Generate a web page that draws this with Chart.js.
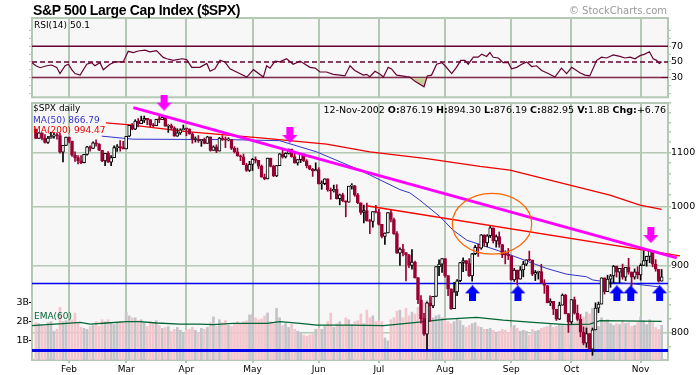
<!DOCTYPE html>
<html>
<head>
<meta charset="utf-8">
<script src="https://cdn.jsdelivr.net/npm/chart.js@4.4.1/dist/chart.umd.min.js"></script>
<style>
body { margin:0; background:#fff; width:698px; height:375px; overflow:hidden; position:relative; font-family:"DejaVu Sans", sans-serif; }
canvas { position:absolute; left:0; top:0; }
.t { position:absolute; white-space:nowrap; font-size:9px; line-height:9px; color:#000; }
</style>
</head>
<body>
<canvas id="rsiChart" width="698" height="103"></canvas>
<canvas id="priceChart" width="698" height="375"></canvas>
<div class="t" style="left:33px;top:3px;font:bold 14px 'Liberation Sans',Arial,sans-serif;line-height:14px;letter-spacing:-0.35px">S&amp;P 500 Large Cap Index ($SPX)</div>
<div class="t" style="right:31px;top:6px;font-size:10px;line-height:10px;color:#999">© StockCharts.com</div>
<div class="t" style="left:34px;top:20.5px">RSI(14) 50.1</div>
<div class="t" style="left:33px;top:104px">$SPX daily</div>
<div class="t" style="left:33px;top:115.5px;color:#3333cc">MA(50) 866.79</div>
<div class="t" style="left:33px;top:126px;color:#ee0000">MA(200) 994.47</div>
<div class="t" style="right:32px;top:104.5px;font-size:9.5px;line-height:9.5px">12-Nov-2002 <b>O:</b>876.19 <b>H:</b>894.30 <b>L:</b>876.19 <b>C:</b>882.95 <b>V:</b>1.8B <b>Chg:</b>+6.76</div>
<div class="t" style="left:34px;top:312px;color:#006633">EMA(60)</div>
<script>
// daily bars 16-Jan-2002 .. 12-Nov-2002, index 0 = 16-Jan
const opens = [
  1146.2, 1127.6, 1138.9, 1127.6, 1119.3, 1128.2, 1132.2, 1133.3, 1133.1, 1100.6, 1113.6,
  1130.2, 1122.2, 1094.4, 1090.0, 1083.5, 1080.2, 1096.2, 1111.0, 1107.5, 1118.5, 1116.5, 1104.2, 1083.3, 1098.0, 1081.0, 1089.8, 1109.4, 1109.9, 1109.4,
  1106.7, 1131.8, 1153.8, 1146.1, 1162.8, 1157.5, 1164.3, 1168.3, 1165.6, 1154.1, 1153.0, 1166.2, 1165.6, 1170.3, 1151.9, 1153.6, 1148.7, 1131.9, 1138.5, 1144.6,
  1147.4, 1146.5, 1136.8, 1125.4, 1126.3, 1122.7, 1125.3, 1117.8, 1130.5, 1103.7, 1111.0, 1102.6, 1128.4, 1126.1, 1124.5, 1125.2, 1107.8, 1101.0, 1093.1, 1091.5, 1076.3, 1065.5,
  1076.9, 1086.5, 1084.6, 1073.4, 1052.7, 1049.5, 1088.9, 1073.0, 1055.0, 1074.6, 1097.3, 1091.1, 1098.2, 1106.6, 1091.9, 1079.9, 1086.0, 1097.1, 1083.8, 1074.6, 1067.7, 1064.7,
  1067.1, 1040.7, 1040.7, 1049.9, 1029.2, 1027.5, 1030.7, 1013.6, 1020.3, 1009.6, 1007.3, 1036.2, 1037.1, 1020.0, 1006.3, 989.1, 992.7, 974.5, 973.5, 990.6,
  989.8, 968.7, 948.1, 954.0, 989.0, 977.0, 952.8, 920.5, 927.4, 921.4, 917.9, 900.9, 906.0, 881.6, 847.8, 819.9, 797.7, 843.4, 838.7, 852.8, 899.0, 902.8,
  911.6, 884.7, 864.2, 834.6, 859.6, 876.8, 905.5, 908.6, 903.8, 884.2, 919.6, 930.3, 928.8, 950.7, 937.4, 949.4, 962.7, 940.9, 948.0, 934.8, 917.9, 917.8,
  916.1, 878.0, 893.4, 879.2, 893.9, 903.0, 909.6, 909.4, 886.9, 889.8, 891.1, 873.5, 869.5, 843.3, 845.4, 833.7, 819.3, 839.7, 855.0, 827.4,
  815.3, 847.9, 827.9, 819.0, 800.6, 785.3, 798.6, 776.8, 803.9, 835.3, 841.4, 881.3, 860.0, 879.2, 884.4, 899.7, 890.2, 896.1, 882.5, 897.7, 890.2, 882.2, 890.7,
  885.8, 901.0, 908.4, 915.4, 923.8, 902.7, 894.7, 876.2
];
const highs = [
  1146.2, 1139.3, 1138.9, 1135.3, 1131.9, 1139.5, 1138.3, 1138.6, 1137.5, 1113.8, 1130.2,
  1130.2, 1122.2, 1101.0, 1093.6, 1094.0, 1096.3, 1112.0, 1112.7, 1120.6, 1124.7, 1117.1, 1104.2, 1098.3, 1101.5, 1093.9, 1112.7, 1115.1, 1123.1, 1121.6,
  1131.8, 1153.8, 1157.7, 1165.3, 1167.9, 1172.8, 1173.0, 1168.3, 1165.6, 1157.8, 1166.5, 1172.7, 1173.9, 1170.3, 1155.1, 1156.5, 1151.0, 1147.0, 1146.9, 1154.5,
  1147.8, 1146.5, 1138.9, 1130.5, 1133.3, 1125.3, 1128.3, 1131.8, 1130.5, 1112.8, 1114.9, 1129.4, 1133.0, 1130.5, 1128.8, 1125.2, 1111.2, 1108.5, 1094.9, 1096.8, 1078.9, 1082.6,
  1088.3, 1091.4, 1084.6, 1075.9, 1058.7, 1088.9, 1088.9, 1075.4, 1074.8, 1097.7, 1104.2, 1099.3, 1106.6, 1106.6, 1099.6, 1086.0, 1097.1, 1097.1, 1085.9, 1074.6, 1069.5, 1079.9,
  1070.7, 1046.1, 1050.1, 1049.9, 1033.0, 1038.2, 1039.0, 1021.9, 1023.5, 1009.6, 1036.2, 1040.8, 1037.6, 1023.1, 1006.3, 1002.1, 1005.9, 977.4, 990.7, 1001.8,
  994.5, 968.7, 954.3, 989.1, 993.6, 979.6, 956.3, 929.2, 934.9, 921.4, 918.7, 926.5, 907.8, 881.6, 854.1, 827.7, 844.3, 853.8, 852.9, 899.0, 909.8, 911.6,
  911.6, 884.7, 864.2, 874.4, 878.7, 905.8, 913.0, 908.6, 911.7, 920.2, 933.3, 935.4, 951.2, 950.7, 951.2, 965.0, 962.7, 950.8, 955.8, 934.8, 924.6, 928.2,
  916.1, 896.1, 893.4, 899.1, 907.3, 909.9, 924.0, 909.4, 892.8, 891.8, 902.7, 878.5, 869.5, 849.3, 845.4, 833.7, 844.2, 856.6, 856.0, 827.4,
  847.9, 851.9, 840.0, 825.9, 808.2, 806.5, 798.6, 806.5, 843.3, 844.4, 881.3, 881.3, 885.4, 886.7, 900.7, 899.7, 896.2, 902.9, 897.7, 912.3, 890.6, 895.3, 898.8,
  903.4, 924.6, 915.8, 925.7, 923.8, 910.1, 894.7, 894.3
];
const lows = [
  1127.0, 1127.6, 1124.5, 1117.9, 1117.4, 1128.2, 1127.8, 1126.0, 1098.7, 1081.7, 1113.3,
  1118.5, 1092.3, 1082.6, 1077.8, 1078.4, 1079.9, 1094.7, 1102.6, 1107.5, 1112.3, 1103.2, 1082.2, 1074.4, 1080.6, 1074.4, 1089.8, 1101.7, 1102.6, 1106.7,
  1106.7, 1130.9, 1144.8, 1145.1, 1150.7, 1157.5, 1159.6, 1155.1, 1151.0, 1151.0, 1153.0, 1159.1, 1165.6, 1151.6, 1139.5, 1144.6, 1131.9, 1131.6, 1135.3, 1144.6,
  1132.9, 1135.7, 1117.8, 1120.1, 1119.5, 1111.8, 1116.7, 1117.8, 1102.4, 1103.7, 1099.4, 1102.6, 1123.4, 1109.3, 1122.6, 1105.6, 1098.9, 1092.5, 1084.0, 1076.3, 1063.6, 1063.5,
  1065.3, 1079.5, 1068.9, 1052.7, 1048.0, 1049.5, 1072.2, 1053.9, 1053.9, 1074.6, 1088.9, 1089.2, 1096.8, 1090.6, 1079.0, 1075.6, 1080.5, 1082.2, 1070.3, 1066.7, 1054.3, 1064.7,
  1039.9, 1030.5, 1038.8, 1026.9, 1012.5, 1025.5, 1012.9, 1002.6, 1008.1, 981.6, 1007.3, 1030.9, 1017.9, 1004.6, 985.7, 970.9, 974.2, 952.9, 963.7, 988.3,
  967.4, 945.5, 934.9, 954.0, 972.9, 951.7, 920.1, 900.9, 915.9, 876.5, 897.1, 895.0, 880.6, 842.1, 813.3, 796.1, 775.7, 816.1, 835.9, 852.8, 884.7, 889.9,
  882.5, 853.9, 833.4, 834.6, 854.1, 875.2, 890.8, 892.4, 883.6, 876.2, 918.2, 915.4, 927.0, 931.9, 931.1, 946.4, 937.2, 930.4, 930.1, 913.2, 903.3, 910.2,
  877.5, 875.7, 870.5, 879.2, 882.9, 900.5, 908.5, 884.8, 877.0, 879.3, 872.4, 857.4, 843.1, 839.1, 825.8, 817.4, 818.5, 839.7, 826.8, 800.2,
  812.8, 826.5, 817.3, 794.1, 782.9, 779.5, 775.8, 768.6, 803.9, 828.7, 841.4, 856.3, 860.0, 866.6, 873.1, 882.5, 873.8, 879.2, 877.0, 887.0, 867.9, 879.2, 879.8,
  877.7, 901.0, 899.5, 905.0, 898.7, 891.6, 874.6, 876.2
];
const closes = [
  1127.6, 1138.9, 1127.6, 1119.3, 1128.2, 1132.2, 1133.3, 1133.1, 1100.6, 1113.6, 1130.2,
  1122.2, 1094.4, 1090.0, 1083.5, 1080.2, 1096.2, 1111.0, 1107.5, 1118.5, 1116.5, 1104.2, 1083.3, 1098.0, 1081.0, 1089.8, 1109.4, 1109.9, 1109.4, 1106.7,
  1131.8, 1153.8, 1146.1, 1162.8, 1157.5, 1164.3, 1168.3, 1165.6, 1154.1, 1153.0, 1166.2, 1165.6, 1170.3, 1151.9, 1153.6, 1148.7, 1131.9, 1138.5, 1144.6, 1147.4,
  1146.5, 1136.8, 1125.4, 1126.3, 1122.7, 1125.3, 1117.8, 1130.5, 1103.7, 1111.0, 1102.6, 1128.4, 1126.1, 1124.5, 1125.2, 1107.8, 1101.0, 1093.1, 1091.5, 1076.3, 1065.5, 1076.9,
  1086.5, 1084.6, 1073.4, 1052.7, 1049.5, 1088.9, 1073.0, 1055.0, 1074.6, 1097.3, 1091.1, 1098.2, 1106.6, 1091.9, 1079.9, 1086.0, 1097.1, 1083.8, 1074.6, 1067.7, 1064.7, 1067.1,
  1040.7, 1040.7, 1049.9, 1029.2, 1027.5, 1030.7, 1013.6, 1020.3, 1009.6, 1007.3, 1036.2, 1037.1, 1020.0, 1006.3, 989.1, 992.7, 974.5, 973.5, 990.6, 989.8,
  968.7, 948.1, 954.0, 989.0, 977.0, 952.8, 920.5, 927.4, 921.4, 917.9, 900.9, 906.0, 881.6, 847.8, 819.9, 797.7, 843.4, 838.7, 852.8, 899.0, 902.8, 911.6,
  884.7, 864.2, 834.6, 859.6, 876.8, 905.5, 908.6, 903.8, 884.2, 919.6, 930.3, 928.8, 950.7, 937.4, 949.4, 962.7, 940.9, 948.0, 934.8, 917.9, 917.8, 916.1,
  878.0, 893.4, 879.2, 893.9, 903.0, 909.6, 909.4, 886.9, 889.8, 891.1, 873.5, 869.5, 843.3, 845.4, 833.7, 819.3, 839.7, 855.0, 827.4, 815.3,
  847.9, 827.9, 819.0, 800.6, 785.3, 798.6, 776.8, 803.9, 835.3, 841.4, 881.3, 860.0, 879.2, 884.4, 899.7, 890.2, 896.1, 882.5, 897.7, 890.2, 882.2, 890.7, 885.8,
  901.0, 908.4, 915.4, 923.8, 902.7, 894.7, 876.2, 883.0
];
// volume, billions of shares
const volumes = [
  1.95, 1.9, 1.85, 1.75, 1.95, 2.0, 1.5, 1.6, 2.75, 2.0, 2.05,
  2.0, 2.1, 2.45, 1.95, 1.7, 1.65, 1.6, 1.75, 1.8, 2.0, 1.75, 2.1, 2.0, 2.1, 1.9, 1.85, 1.95, 2.0, 1.95,
  2.5, 2.3, 2.2, 2.2, 2.05, 2.1, 1.95, 1.75, 2.0, 1.9, 2.05, 1.8, 1.65, 1.7, 1.75, 1.5, 1.6, 1.7, 1.55, 1.45,
  1.55, 1.6, 1.7, 1.55, 1.45, 1.65, 1.6, 1.7, 1.95, 2.25, 1.75, 2.1, 1.95, 2.05, 1.8, 1.75, 1.9, 2.0, 1.9, 2.0, 2.05, 2.35,
  2.4, 2.2, 2.1, 2.15, 2.3, 2.45, 2.0, 1.9, 2.7, 2.2, 1.8, 1.9, 1.7, 1.85, 1.6, 1.5, 1.45, 1.3, 1.25, 1.3, 1.35, 1.6,
  1.65, 1.6, 1.75, 2.0, 2.45, 1.7, 1.9, 2.0, 1.8, 2.2, 2.1, 1.85, 2.0, 2.05, 2.4, 1.9, 2.6, 2.2, 2.3, 2.0,
  2.05, 2.0, 1.15, 1.0, 2.1, 2.2, 2.55, 2.6, 2.2, 2.7, 2.3, 2.5, 2.4, 2.75, 2.8, 3.0, 3.1, 2.6, 2.2, 2.3, 2.35, 2.2,
  2.2, 2.0, 1.9, 2.0, 2.15, 2.05, 1.8, 1.7, 1.8, 1.9, 1.95, 1.75, 1.7, 1.6, 1.6, 1.65, 1.55, 1.45, 1.5, 1.6, 1.55, 1.45,
  1.7, 1.8, 1.65, 1.5, 1.55, 1.5, 1.3, 1.6, 1.5, 1.55, 1.65, 1.7, 1.75, 1.9, 1.7, 1.75, 1.85, 1.8, 1.75, 2.0,
  2.1, 1.95, 2.05, 2.2, 2.25, 2.5, 2.4, 2.7, 2.3, 1.75, 2.2, 2.0, 2.1, 1.9, 1.8, 1.9, 1.85, 2.05, 1.9, 1.95, 1.75, 1.8, 1.95,
  2.25, 2.05, 1.85, 2.1, 1.95, 1.7, 1.6, 1.8
];

// month axis: day index of first session of each month
const monthDays = [11, 30, 50, 72, 94, 114, 136, 158, 178, 201];
const monthNames = ['Feb', 'Mar', 'Apr', 'May', 'Jun', 'Jul', 'Aug', 'Sep', 'Oct', 'Nov'];

// overlays (day index, value)
const ma50Days = [21.9, 32.3, 64.5, 81, 93.3, 107.7, 121, 124.3, 127.6, 134.3, 138.6, 143.2, 149.8, 156.5, 165.3, 169.8, 176.4, 183, 185.1, 189.7, 198.5, 208];
const ma50Vals = [1132, 1126, 1125, 1123, 1101, 1066, 1030, 1024, 1011, 982, 959, 942, 931, 920, 904, 896, 887, 883, 878, 875, 872, 866.8];
const ma200Days = [23.3, 31.3, 50.1, 75.5, 96.6, 111, 129.9, 147.6, 157.6, 177.5, 190.8, 200.8, 208];
const ma200Vals = [1159, 1155, 1141, 1128, 1116, 1101, 1088, 1073, 1066, 1038, 1020, 1002, 994.5];
const emaDays = [-1.3, 3.6, 10.2, 14.7, 18, 23.5, 30.2, 34.6, 40.1, 47.9, 54.5, 58.9, 65.5, 76.8, 81.1, 87.8, 93.4, 104.4, 115.5, 126.6, 136.5, 146.5, 155.3, 165.3, 176.4, 184.1, 187.5, 208];
const emaVals = [1.79, 1.84, 1.91, 1.96, 1.87, 1.93, 2.0, 2.0, 1.93, 1.87, 1.87, 1.84, 1.91, 1.91, 2.0, 1.91, 1.82, 1.82, 1.79, 1.96, 2.13, 2.22, 2.08, 1.96, 1.84, 1.87, 2.05, 2.01];

const rsiDays = [-1.3, 0, 1.4, 3.6, 5.2, 6.9, 8, 9.7, 10.8, 11.9, 13, 14.7, 16.9, 18.5, 19.6, 21.3, 22.4, 24.6, 26.3, 29, 30.7, 32.4, 34, 36.3, 37.9, 40.1, 42.3, 43.5, 45.7, 48.5, 50.1, 51.8, 54.5, 56.8, 57.9, 59.5, 61.2, 62.8, 64.5, 66.7, 70.1, 72.3, 75.6, 76.7, 77.8, 79.5, 81.1, 83.3, 85.5, 87.8, 91.1, 92.8, 94.4, 96.6, 98.8, 101.1, 102.7, 104.4,
  106, 108.8, 109.9, 111, 112.7, 114.4, 115.5, 117.1, 118.2, 119.9, 121.6, 123.2, 124.3, 126, 129, 130.1, 131.5, 133.2, 134.9, 136, 138.2, 139.8, 141.2, 142.6, 143.7, 145.4, 147, 148.2, 149.8, 150.9, 152, 153.7, 155.3, 157, 158.1, 159.8, 161.5, 163.1, 164.8, 166.4, 168.1, 170.3, 172.5, 174.7, 176.4, 178.1, 180.8, 182.5, 184.1, 186.4, 188, 189.7, 191.9, 194.1, 195.8, 197.5, 199.1, 200.8, 202.4, 203.9, 205.2, 206.3, 207.2, 208];
const rsiVals = [49, 45, 42.5, 45, 46, 43, 35, 45, 47, 40, 35, 33, 47, 49, 45, 49, 40, 47, 50, 50, 63.6, 62, 64, 65, 63, 64.5, 55.8, 54, 52, 54, 53, 43, 43, 48, 38, 41, 52, 50, 41, 37, 30.5, 40, 30.5, 45, 42, 51, 50, 54, 47, 51, 43, 42, 37, 37, 34, 33, 32, 45,
  39, 33, 34, 31, 38, 34, 30.5, 43, 41, 33, 32, 31, 30.5, 25, 18, 32, 33, 47, 49, 45, 35, 43, 52, 52, 47, 56, 56, 60, 57, 62, 56, 55, 49, 49, 41, 43, 47, 50, 44, 45, 39, 35, 30.5, 42, 35, 43, 36, 33, 32, 52, 56, 55, 59, 57, 55, 56, 54, 58, 60, 63, 54, 52, 48, 50.1];
const rsiLevels = [70, 50, 30];
const rsiTickVals = [10, 20, 30, 40, 50, 60, 70, 80, 90];

// annotations drawn on the chart
const trendDays = [32.4, 213.0];
const trendPrices = [1190.6, 912.9];
const redTrendDays = [109.9, 214.1];
const redTrendPrices = [1001, 916.0];
const supportPrices = [872.7, 775];
const circleDays = [138.4, 164.8];
const circlePrices = [919.0, 1023.2];
const downArrowDays = [42.6, 84.4, 204.4];
const downArrowPrices = [1201, 1134.4, 950.5];
const upArrowDays = [145.1, 160.2, 193.1, 197.7, 207.3];
const upArrowPrices = [857.5, 857.5, 857.5, 857.5, 857.5];

const priceLabels = [800, 900, 1000, 1100];
const priceTickVals = [780, 800, 820, 840, 860, 880, 900, 920, 940, 960, 980, 1000, 1020, 1040, 1060, 1080, 1100, 1120, 1140, 1160, 1180, 1200];
const volTickVals = [1, 2, 3];

const X_MIN = -1.3, X_MAX = 210.1;
const GRID = '#b3c9b3';
const RED = '#990033';
const MAROON = '#660033';

Chart.defaults.font.family = "'DejaVu Sans', sans-serif";
Chart.defaults.font.size = 9;
Chart.defaults.color = '#000';

const pts = (xs, ys) => xs.map((x, k) => ({ x: x, y: ys[k] }));

const panel = {
  id: 'panel',
  beforeDraw(chart) {
    const a = chart.chartArea, ctx = chart.ctx;
    ctx.save();
    ctx.fillStyle = '#f7f7f7';
    ctx.fillRect(a.left, a.top, a.right - a.left, a.bottom - a.top);
    ctx.restore();
  },
  beforeDatasetsDraw(chart) {
    const a = chart.chartArea, ctx = chart.ctx;
    ctx.save();
    ctx.strokeStyle = GRID;
    ctx.lineWidth = 2;
    ctx.strokeRect(a.left, a.top, a.right - a.left, a.bottom - a.top);
    ctx.restore();
  }
};

const ellipse = {
  id: 'ellipse',
  afterDatasetsDraw(chart) {
    const x = chart.scales.x, y = chart.scales.y, ctx = chart.ctx;
    const l = x.getPixelForValue(circleDays[0]), r = x.getPixelForValue(circleDays[1]);
    const b = y.getPixelForValue(circlePrices[0]), t = y.getPixelForValue(circlePrices[1]);
    ctx.save();
    ctx.strokeStyle = '#ff6600';
    ctx.lineWidth = 1.2;
    ctx.beginPath();
    ctx.ellipse((l + r) / 2, (t + b) / 2, (r - l) / 2, (b - t) / 2, 0, 0, Math.PI * 2);
    ctx.stroke();
    ctx.restore();
  }
};

function arrowImage(color, down) {
  const c = document.createElement('canvas');
  c.width = 15; c.height = 16;
  const g = c.getContext('2d');
  g.fillStyle = color;
  g.beginPath();
  if (down) {
    g.rect(4, 0, 7, 8);
    g.moveTo(0, 8); g.lineTo(15, 8); g.lineTo(7.5, 16); g.closePath();
  } else {
    g.moveTo(7.5, 0); g.lineTo(15, 8); g.lineTo(0, 8); g.closePath();
    g.rect(4, 8, 7, 8);
  }
  g.fill();
  return c;
}

function xAxis(showLabels) {
  return {
    type: 'linear', min: X_MIN, max: X_MAX, offset: false,
    afterBuildTicks: s => { s.ticks = monthDays.map(v => ({ value: v })); },
    grid: { color: GRID, lineWidth: 2, drawTicks: showLabels, tickLength: 3, tickColor: GRID, offset: false },
    border: { display: false },
    ticks: { display: showLabels, autoSkip: false, maxRotation: 0, padding: 1,
      callback: v => monthNames[monthDays.indexOf(v)] },
    afterFit: s => { s.height = showLabels ? 15 : 0; }
  };
}

const days = closes.map((c, i) => i);
const upDay = closes.map((c, i) => c >= opens[i]);

// RSI panel
new Chart(document.getElementById('rsiChart'), {
  type: 'line',
  data: {
    datasets: [
      { data: pts(rsiDays, rsiVals), borderColor: MAROON, borderWidth: 1.2, pointRadius: 0,
        fill: { target: { value: 30 }, above: 'rgba(0,0,0,0)', below: '#cccc99' }, order: 1 },
      ...rsiLevels.map(v => ({ data: [{ x: X_MIN, y: v }, { x: X_MAX, y: v }], borderColor: MAROON,
        borderWidth: 1.5, borderDash: v === 50 ? [5, 3] : [], pointRadius: 0, order: 2 }))
    ]
  },
  options: {
    responsive: false, animation: false, events: [],
    layout: { padding: { top: 18, bottom: 1, left: 0, right: 0 } },
    plugins: { legend: { display: false }, tooltip: { enabled: false } },
    scales: {
      x: xAxis(false),
      y: {
        type: 'linear', position: 'right', min: 4.5, max: 106.4,
        afterBuildTicks: s => { s.ticks = rsiTickVals.map(v => ({ value: v })); },
        grid: { drawOnChartArea: false, tickLength: 3, tickColor: GRID },
        border: { display: false },
        ticks: { autoSkip: false, padding: 0, font: { size: 9.5 }, callback: v => rsiLevels.includes(v) ? String(v) : '' },
        afterFit: s => { s.width = 30; }
      },
      yl: {
        type: 'linear', position: 'left', min: 4.5, max: 106.4,
        afterBuildTicks: s => { s.ticks = rsiTickVals.map(v => ({ value: v })); },
        grid: { drawOnChartArea: false, tickLength: 3, tickColor: GRID },
        border: { display: false },
        ticks: { display: false },
        afterFit: s => { s.width = 32; }
      }
    }
  },
  plugins: [panel]
});

// price panel
new Chart(document.getElementById('priceChart'), {
  type: 'bar',
  data: {
    datasets: [
      { label: 'Volume', data: days.map(i => ({ x: i, y: volumes[i] })), yAxisID: 'yv', grouped: false,
        barThickness: 2, maxBarThickness: 2,
        backgroundColor: upDay.map(u => u ? '#c3c3c8' : '#f2c6cc'), order: 20 },
      { type: 'line', label: 'EMA(60)', data: pts(emaDays, emaVals), yAxisID: 'yv',
        borderColor: '#006633', borderWidth: 1.3, pointRadius: 0, order: 19 },
      ...supportPrices.map((p, k) => ({ type: 'line', data: [{ x: X_MIN, y: p }, { x: X_MAX, y: p }], yAxisID: 'y',
        borderColor: '#0000ee', borderWidth: k === 0 ? 1.5 : 3, pointRadius: 0, order: 15 })),
      { type: 'line', label: 'MA(200)', data: pts(ma200Days, ma200Vals), yAxisID: 'y',
        borderColor: '#ee0000', borderWidth: 1.3, pointRadius: 0, order: 13 },
      { type: 'line', label: 'MA(50)', data: pts(ma50Days, ma50Vals), yAxisID: 'y',
        borderColor: '#3333cc', borderWidth: 1, pointRadius: 0, order: 12 },
      { label: 'wick', data: days.map(i => ({ x: i, y: [lows[i], highs[i]] })), yAxisID: 'y', grouped: false,
        barThickness: 1, maxBarThickness: 1, backgroundColor: upDay.map(u => u ? '#000' : RED), order: 11 },
      { label: 'body', data: days.map(i => ({ x: i, y: [opens[i], closes[i]] })), yAxisID: 'y', grouped: false,
        barThickness: 3, maxBarThickness: 3, minBarLength: 1, borderSkipped: false, borderWidth: 1,
        backgroundColor: upDay.map(u => u ? '#fff' : RED), borderColor: upDay.map(u => u ? '#000' : RED), order: 10 },
      { type: 'line', data: pts(redTrendDays, redTrendPrices), yAxisID: 'y', clip: false,
        borderColor: '#ff0000', borderWidth: 1.3, pointRadius: 0, order: 5 },
      { type: 'line', data: pts(trendDays, trendPrices), yAxisID: 'y', clip: false,
        borderColor: '#ff00ff', borderWidth: 3, pointRadius: 0, order: 4 },
      { type: 'line', data: pts(downArrowDays, downArrowPrices), yAxisID: 'y', showLine: false, clip: false,
        pointStyle: arrowImage('#ff00ff', true), pointRadius: 6, order: 1 },
      { type: 'line', data: pts(upArrowDays, upArrowPrices), yAxisID: 'y', showLine: false, clip: false,
        pointStyle: arrowImage('#0000ff', false), pointRadius: 6, order: 1 }
    ]
  },
  options: {
    responsive: false, animation: false, events: [],
    layout: { padding: { top: 103, bottom: 0, left: 0, right: 0 } },
    plugins: { legend: { display: false }, tooltip: { enabled: false } },
    scales: {
      x: xAxis(true),
      y: {
        type: 'logarithmic', position: 'right', min: 762.2, max: 1200.3, stacked: false,
        afterBuildTicks: s => { s.ticks = priceTickVals.map(v => ({ value: v })); },
        grid: { color: c => priceLabels.includes(c.tick && c.tick.value) ? GRID : 'rgba(0,0,0,0)',
          lineWidth: 1.5, tickLength: 3, tickColor: GRID },
        border: { display: false },
        ticks: { autoSkip: false, padding: 0, font: { size: 9.5 }, callback: v => priceLabels.includes(v) ? String(v) : '' },
        afterFit: s => { s.width = 30; }
      },
      yv: {
        type: 'linear', position: 'left', min: 0, max: 13.4, stacked: false,
        afterBuildTicks: s => { s.ticks = volTickVals.map(v => ({ value: v })); },
        grid: { drawOnChartArea: false, tickLength: 3, tickColor: '#000' },
        border: { display: false },
        ticks: { autoSkip: false, padding: 0, font: { size: 9.5 }, callback: v => v + 'B' },
        afterFit: s => { s.width = 32; }
      }
    }
  },
  plugins: [panel, ellipse]
});
</script>
</body>
</html>
